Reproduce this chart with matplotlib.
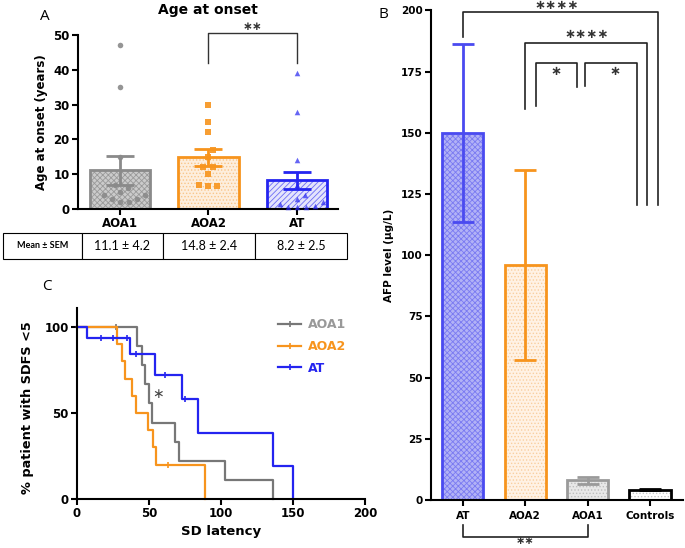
import numpy as np
import matplotlib
matplotlib.use("Agg")
import matplotlib.pyplot as plt
from matplotlib.lines import Line2D

plt.rcParams['font.family'] = ['DejaVu Sans']
plt.rcParams['hatch.linewidth'] = 0.6

# ---- data ----
# panel A: age at onset
groups_a = ['AOA1', 'AOA2', 'AT']
onset_mean = [11.1, 14.8, 8.2]
onset_sem = [4.2, 2.4, 2.5]
onset_aoa1 = [47, 35, 15, 7, 6, 5, 4, 3, 2, 2, 3, 4]
onset_aoa2 = [30, 25, 22, 17, 15, 12, 12, 10, 7, 6.5, 6.5]
onset_at = [39, 28, 14, 7, 4, 3, 2, 1.5, 1, 0.5, 0.5, 0.5]
table_row = ['Mean ± SEM', '11.1 ± 4.2', '14.8 ± 2.4', '8.2 ± 2.5']

# panel B: AFP level
groups_b = ['AT', 'AOA2', 'AOA1', 'Controls']
afp_mean = [150, 96, 8, 4.2]
afp_err = [36.5, 39, 1.5, 0.3]

# panel C: Kaplan-Meier, SD latency
km_aoa1_t = [0, 42, 45, 47, 50, 52, 68, 71, 103, 136]
km_aoa1_s = [100, 88.9, 77.8, 66.7, 55.6, 44.4, 33.3, 22.2, 11.1, 0]
km_aoa1_cens = [27]
km_aoa2_t = [0, 28, 31, 33, 38, 41, 49, 53, 55, 89]
km_aoa2_s = [100, 90, 80, 70, 60, 50, 40, 30, 20, 0]
km_aoa2_cens = [63]
km_at_t = [0, 7, 37, 54, 73, 84, 136, 150]
km_at_s = [100, 93.8, 84.4, 72.3, 57.9, 38.6, 19.3, 0]
km_at_cens = [17, 25, 35, 41, 61, 75]

GREY = '#8a8a8a'
ORANGE = '#f7941d'
BLUE = '#2424f0'
W, H = 685, 548
STAR = '\u2217'


def fig_rect(x0, y0, x1, y1):
    # pixel box (top-left origin) -> figure fraction
    return [x0 / W, 1 - y1 / H, (x1 - x0) / W, (y1 - y0) / H]


def swarm(vals, xscale, yscale, d=8.5):
    # simple beeswarm: returns x offsets (data units)
    order = np.argsort(vals)
    placed = []
    offs = np.zeros(len(vals))
    for i in order:
        y = vals[i] * yscale
        for k in range(0, 60):
            cand = [0.0] if k == 0 else [k * 1.0, -k * 1.0]
            ok = None
            for c in cand:
                if all((c - px) ** 2 + (y - py) ** 2 >= d * d for px, py in placed):
                    ok = c
                    break
            if ok is not None:
                placed.append((ok, y))
                offs[i] = ok / xscale
                break
    return offs


def style_axes(ax, size, lw=1.5):
    for s in ['top', 'right']:
        ax.spines[s].set_visible(False)
    for s in ['left', 'bottom']:
        ax.spines[s].set_linewidth(lw)
    ax.tick_params(width=lw, length=4, labelsize=size, pad=2)
    for lab in ax.get_xticklabels() + ax.get_yticklabels():
        lab.set_fontweight('bold')


fig = plt.figure(figsize=(6.85, 5.48), dpi=100)

# ---------- panel A ----------
axA = fig.add_axes(fig_rect(78, 35, 338, 209))
xa = np.arange(3)
facesA = ['#cbcbcb', '#fdeedd', '#e4e4fc']
hatchesA = ['xxxxxx', '.....', '//////']
hcolA = ['#9a9a9a', '#f9c58a', '#6c6cf5']
edgesA = [GREY, ORANGE, BLUE]
axA.bar(xa, onset_mean, 0.68, color=facesA, edgecolor=hcolA, hatch=hatchesA, linewidth=0, zorder=1)
axA.bar(xa, onset_mean, 0.68, color='none', edgecolor=edgesA, linewidth=2, zorder=2)
mk = ['o', 's', '^']
for i, vals in enumerate([onset_aoa1, onset_aoa2, onset_at]):
    vals = np.array(vals, dtype=float)
    offs = swarm(vals, 88.5, 3.48)
    axA.scatter(xa[i] + offs, vals, s=16, marker=mk[i], color=edgesA[i], linewidths=0, zorder=3,
                alpha=0.9 if i < 2 else 0.7, clip_on=False)
    axA.errorbar(xa[i], onset_mean[i], yerr=onset_sem[i], color=edgesA[i], capsize=10,
                 elinewidth=2, capthick=2, zorder=4)
axA.set_xlim(-0.47, 2.46)
axA.set_ylim(0, 50)
axA.set_yticks(range(0, 51, 10))
axA.set_xticks(xa)
axA.set_xticklabels(groups_a)
style_axes(axA, 8.5)
axA.set_ylabel('Age at onset (years)', fontsize=8.5, fontweight='bold', labelpad=4)
axA.set_title('Age at onset', fontsize=10, fontweight='bold', pad=15)
axA.plot([1, 1, 2, 2], [42, 50.6, 50.6, 42], color='#333333', lw=1, clip_on=False)
axA.text(1.5, 52.4, STAR * 2, ha='center', va='center', fontsize=8.5, fontweight='bold', color='#333333')

# table under panel A
axT = fig.add_axes(fig_rect(3, 233, 347, 259))
axT.axis('off')
tab = axT.table(cellText=[table_row], colWidths=[79, 81, 92, 92], cellLoc='center', bbox=[0, 0, 1, 1])
tab.auto_set_font_size(False)
for (r, c), cell in tab.get_celld().items():
    cell.set_linewidth(0.8)
    cell.get_text().set_fontfamily(['Lato', 'DejaVu Sans'])
    cell.get_text().set_fontsize(6.5 if c == 0 else 9)
    if c == 0:
        cell.get_text().set_fontweight('bold')

# ---------- panel C ----------
axC = fig.add_axes(fig_rect(77, 308, 365, 499))
for t, s, cens, col in [(km_aoa1_t, km_aoa1_s, km_aoa1_cens, '#777777'),
                        (km_aoa2_t, km_aoa2_s, km_aoa2_cens, ORANGE),
                        (km_at_t, km_at_s, km_at_cens, BLUE)]:
    axC.step(t, s, where='post', color=col, lw=1.6, clip_on=False)
    cs = [s[np.searchsorted(t, c, side='right') - 1] for c in cens]
    axC.plot(cens, cs, '|', color=col, ms=5, mew=1.2, clip_on=False)
axC.set_xlim(0, 200)
axC.set_ylim(0, 111)
axC.set_xticks(range(0, 201, 50))
axC.set_yticks([0, 50, 100])
style_axes(axC, 8.5)
axC.set_xlabel('SD latency', fontsize=9.5, fontweight='bold', labelpad=3)
axC.set_ylabel('% patient with SDFS <5', fontsize=9.3, fontweight='bold')
axC.yaxis.set_label_coords(-0.15, 0.48)
axC.text(56, 61, STAR, ha='center', va='center', fontsize=10, color='#444444')
handles = [Line2D([], [], color=c, lw=1.6, marker='|', ms=4, mew=1.2) for c in ['#777777', ORANGE, BLUE]]
leg = axC.legend(handles, ['AOA1', 'AOA2', 'AT'], loc='upper left', bbox_to_anchor=(0.66, 1.005),
                 frameon=False, fontsize=9, handlelength=1.8, labelspacing=0.7, handletextpad=0.6)
for txt, c in zip(leg.get_texts(), ['#999999', ORANGE, BLUE]):
    txt.set_color(c)
    txt.set_fontweight('bold')

# ---------- panel B ----------
axB = fig.add_axes(fig_rect(431, 10.5, 683, 500))
xb = np.arange(4)
facesB = ['#b2b2f6', '#fff2e4', '#e8e8e8', 'white']
hcolB = ['#7a7af2', '#f9cfa0', '#bdbdbd', '#c4c4c4']
edgesB = ['#4a4af0', ORANGE, '#9a9a9a', 'black']
hatchesB = ['xxxxxx', '.....', '.....', '.....']
axB.bar(xb, afp_mean, 0.66, color=facesB, edgecolor=hcolB, hatch=hatchesB, linewidth=0, zorder=1)
axB.bar(xb, afp_mean, 0.66, color='none', edgecolor=edgesB, linewidth=2, zorder=2)
for i in xb:
    axB.errorbar(xb[i], afp_mean[i], yerr=afp_err[i], color=edgesB[i], capsize=8,
                 elinewidth=2, capthick=2, zorder=3)
axB.set_xlim(-0.51, 3.53)
axB.set_ylim(0, 200)
axB.set_yticks(range(0, 201, 25))
axB.set_xticks(xb)
axB.set_xticklabels(groups_b)
style_axes(axB, 7.5)
axB.tick_params(axis='x', pad=4)
axB.set_ylabel('AFP level (µg/L)', fontsize=7.5, fontweight='bold', labelpad=5)

bk = dict(color='#222222', lw=1.2, clip_on=False)
axB.plot([0, 0, 3.13, 3.13], [189, 199.3, 199.3, 120.7], **bk)
axB.plot([1, 1, 2.96, 2.96], [159.7, 186.9, 186.9, 120.7], **bk)
axB.plot([1.18, 1.18, 1.83, 1.83], [161, 178.6, 178.6, 168.9], **bk)
axB.plot([1.96, 1.96, 2.8, 2.8], [169, 178.6, 178.6, 120.7], **bk)
axB.plot([0, 0, 2, 2], [-10.2, -15.1, -15.1, -10.2], **bk)
st = dict(ha='center', va='center', fontsize=9.5, fontweight='bold', color='#333333', clip_on=False)
axB.text(1.5, 202, STAR * 4, **st)
axB.text(1.98, 190, STAR * 4, **st)
axB.text(1.5, 175, STAR, **st)
axB.text(2.44, 175, STAR, **st)
axB.text(1.0, -16.9, STAR * 2, ha='center', va='center', fontsize=8, fontweight='bold',
         color='#333333', clip_on=False)

# panel letters
for lbl, x, y in [('A', 45, 16), ('B', 383, 15), ('C', 47, 286)]:
    fig.text(x / W, 1 - y / H, lbl, fontsize=11, ha='center', va='center', family=['Open Sans', 'DejaVu Sans'])

fig.savefig('out.png', dpi=100)
